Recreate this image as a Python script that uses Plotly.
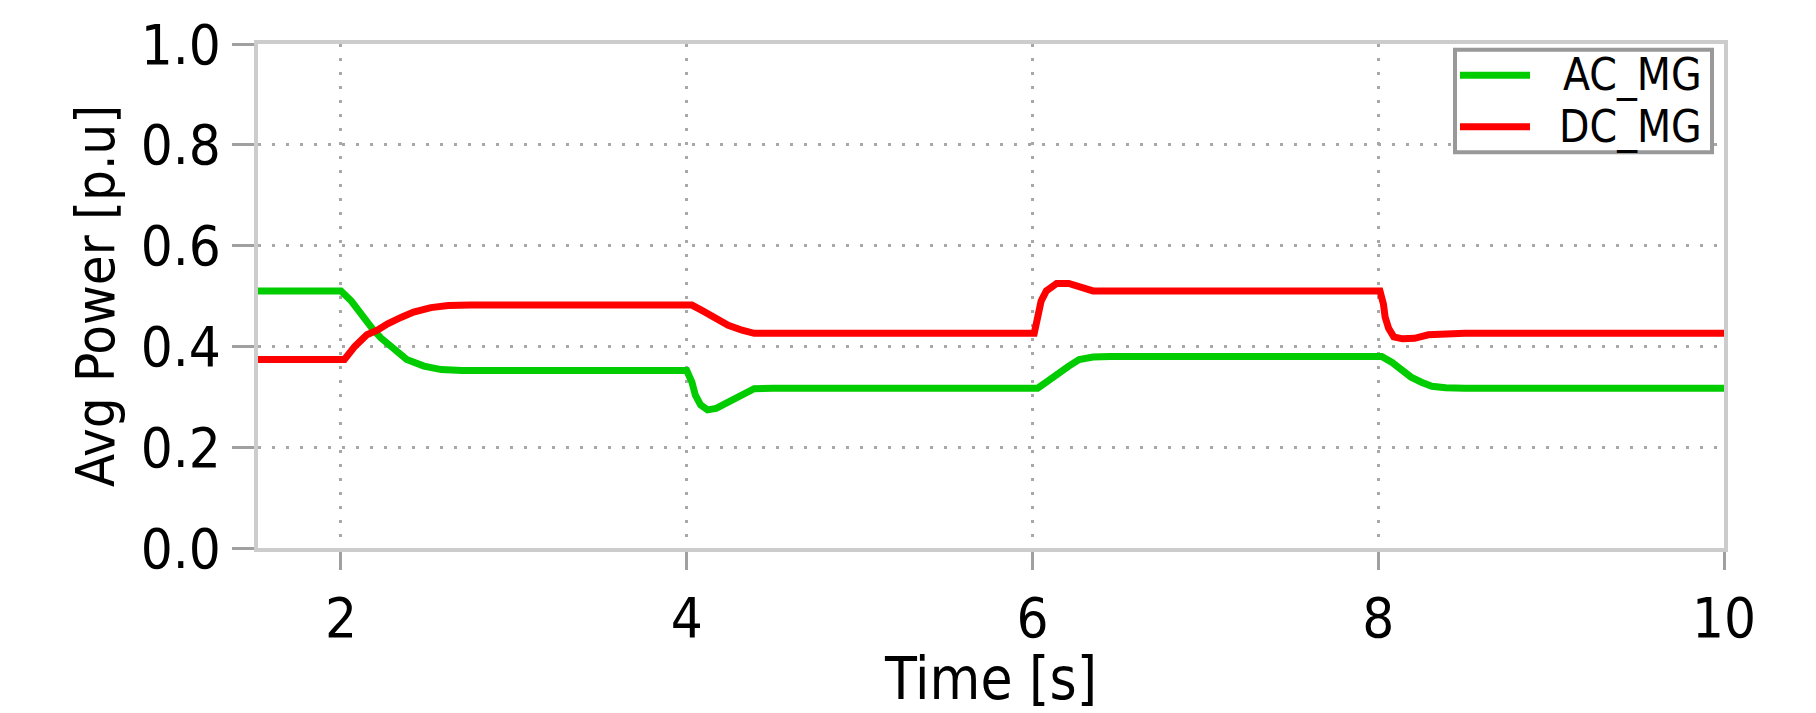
import plotly.graph_objects as go

# Average power shared by the AC and DC microgrids during the load steps
ac_time = [1.5, 2.0, 2.06, 2.12, 2.18, 2.23, 2.31, 2.38, 2.48, 2.58, 2.7,
           4.0, 4.03, 4.05, 4.08, 4.12, 4.17, 4.24, 4.32, 4.39, 4.5,
           6.03, 6.08, 6.14, 6.21, 6.27, 6.35, 6.45,
           8.02, 8.08, 8.14, 8.19, 8.25, 8.31, 8.39, 8.5, 10.0]
ac_power = [0.51, 0.51, 0.49, 0.461, 0.436, 0.417, 0.394, 0.374, 0.361, 0.354, 0.352,
            0.352, 0.329, 0.303, 0.284, 0.274, 0.277, 0.29, 0.306, 0.316, 0.317,
            0.317, 0.329, 0.345, 0.361, 0.374, 0.379, 0.38,
            0.38, 0.368, 0.352, 0.339, 0.329, 0.321, 0.318, 0.317, 0.317]

dc_time = [1.5, 2.02, 2.08, 2.15, 2.21, 2.27, 2.35, 2.42, 2.52, 2.62, 2.75,
           4.03, 4.09, 4.17, 4.24, 4.32, 4.39, 4.5,
           6.01, 6.03, 6.05, 6.08, 6.14, 6.21, 6.27, 6.35, 6.45,
           8.01, 8.03, 8.04, 8.06, 8.09, 8.14, 8.21, 8.29, 8.39, 8.5, 10.0]
dc_power = [0.374, 0.374, 0.40, 0.423, 0.432, 0.445, 0.458, 0.468, 0.477, 0.481, 0.482,
            0.482, 0.471, 0.455, 0.442, 0.432, 0.426, 0.426,
            0.426, 0.458, 0.49, 0.51, 0.525, 0.525, 0.517, 0.51, 0.51,
            0.51, 0.484, 0.458, 0.436, 0.419, 0.415, 0.416, 0.423, 0.426, 0.426, 0.426]

series_names = ["AC_MG", "DC_MG"]
series_colors = ["#00cc00", "#ff0000"]

x_ticks = [2, 4, 6, 8, 10]
y_ticks = [0.0, 0.2, 0.4, 0.6, 0.8, 1.0]
y_tick_text = ["0.0", "0.2", "0.4", "0.6", "0.8", "1.0"]

FONT = "DejaVu Sans Condensed, DejaVu Sans, sans-serif"
W, H = 1816, 713
ML, MR, MT, MB = 258, 92, 36, 160
PW, PH = W - ML - MR, H - MT - MB

fig = go.Figure()
for t, p, name, color in zip([ac_time, dc_time], [ac_power, dc_power],
                             series_names, series_colors):
    fig.add_trace(go.Scatter(x=t, y=p, mode="lines", name=name,
                             line=dict(color=color, width=7),
                             showlegend=False))

axis_common = dict(
    showline=True, mirror=True, linecolor="#cccccc", linewidth=4,
    ticks="outside", tickwidth=3, tickcolor="#a0a0a0",
    showgrid=True, gridcolor="#a8a8a8", gridwidth=3, griddash="3px,11px",
    zeroline=False,
    tickfont=dict(family=FONT, size=56, color="#000000"),
)

fig.update_xaxes(range=[1.52, 10], tickvals=x_ticks, ticklen=18,
                 ticktext=[str(v) for v in x_ticks],
                 title=dict(text="Time [s]", standoff=10,
                            font=dict(family=FONT, size=58, color="#000000")),
                 **axis_common)
fig.update_yaxes(range=[0, 1.0], tickvals=y_ticks, ticktext=y_tick_text,
                 ticklen=22,
                 title=dict(text="Avg Power [p.u]", standoff=10,
                            font=dict(family=FONT, size=54, color="#000000")),
                 **axis_common)


def px_x(px):
    return (px - ML) / PW


def px_y(py):
    return 1 - (py - MT) / PH


# Legend box drawn in paper coordinates at the upper right of the axes
shapes = [dict(type="rect", xref="paper", yref="paper",
               x0=px_x(1455), x1=px_x(1712), y0=px_y(147), y1=px_y(42),
               line=dict(color="#999999", width=4), fillcolor="#ffffff",
               layer="above")]
annotations = []
row_y = [68, 121]
for name, color, ry in zip(series_names, series_colors, row_y):
    shapes.append(dict(type="line", xref="paper", yref="paper",
                       x0=px_x(1460), x1=px_x(1530), y0=px_y(ry), y1=px_y(ry),
                       line=dict(color=color, width=7), layer="above"))
    annotations.append(dict(xref="paper", yref="paper", x=px_x(1704), y=px_y(ry),
                            xanchor="right", yanchor="middle", showarrow=False,
                            text=name,
                            font=dict(family=FONT, size=44, color="#000000")))

fig.update_layout(
    width=W, height=H,
    margin=dict(l=ML, r=MR, t=MT, b=MB),
    paper_bgcolor="#ffffff", plot_bgcolor="#ffffff",
    shapes=shapes, annotations=annotations,
    font=dict(family=FONT),
)

fig.write_html("out.html")
